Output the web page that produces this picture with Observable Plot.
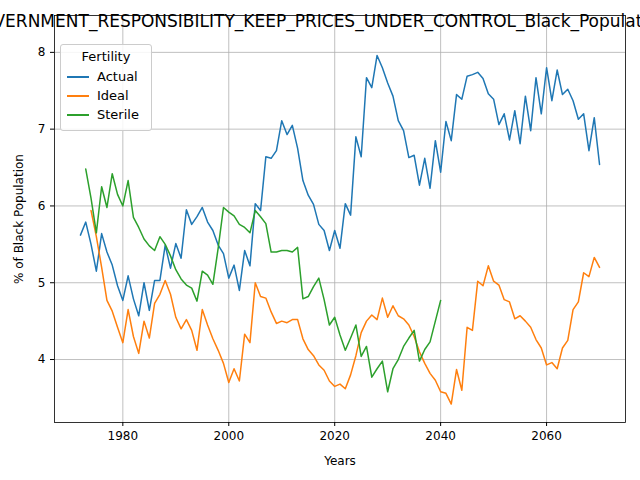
<!DOCTYPE html>
<html><head><meta charset="utf-8">
<script src="https://cdn.jsdelivr.net/npm/d3@7"></script>
<script src="https://cdn.jsdelivr.net/npm/@observablehq/plot@0.6"></script>
<style>
body{margin:0;background:#fff;font-family:"DejaVu Sans",sans-serif;}
#wrap{position:relative;width:640px;height:480px;overflow:hidden;}
#title{position:absolute;top:11px;left:340px;transform:translateX(-50%);white-space:nowrap;font-size:17px;}
#legend{position:absolute;left:60px;top:44px;width:90px;padding:4px 0 6px 0;border:1px solid #ccc;border-radius:3px;background:rgba(255,255,255,0.85);font-size:13px;}
#legend .h{text-align:center;margin-bottom:3px;}
#legend .r{display:flex;align-items:center;height:19px;padding-left:6px;}
#legend .r span.l{display:inline-block;width:22px;height:2px;margin-right:8px;}
</style></head><body>
<div id="wrap"><div id="chart"></div>
<div id="title">GOVERNMENT_RESPONSIBILITY_KEEP_PRICES_UNDER_CONTROL_Black_Population_Year</div>
<div id="legend"><div class="h">Fertility</div></div>
</div>
<script>
const actualStart = 1972;
const actual = [5.62,5.79,5.5,5.15,5.64,5.4,5.23,4.96,4.77,5.09,4.79,4.57,5.0,4.64,5.03,5.03,5.49,5.19,5.51,5.32,5.95,5.76,5.86,5.98,5.79,5.68,5.49,5.38,5.06,5.23,4.9,5.42,5.22,6.03,5.94,6.64,6.62,6.72,7.11,6.93,7.05,6.75,6.33,6.14,6.02,5.76,5.68,5.42,5.68,5.45,6.03,5.88,6.9,6.64,7.67,7.54,7.96,7.8,7.6,7.43,7.11,6.98,6.63,6.66,6.27,6.62,6.23,6.85,6.44,7.1,6.85,7.45,7.39,7.69,7.71,7.74,7.66,7.46,7.39,7.06,7.2,6.86,7.24,6.81,7.43,6.98,7.67,7.2,7.8,7.37,7.77,7.45,7.52,7.37,7.13,7.2,6.72,7.15,6.54];
const idealStart = 1974;
const ideal = [5.94,5.6,5.2,4.77,4.63,4.42,4.22,4.65,4.3,4.08,4.5,4.28,4.73,4.85,5.03,4.85,4.55,4.4,4.52,4.38,4.12,4.65,4.45,4.27,4.12,3.95,3.7,3.88,3.72,4.33,4.22,5.0,4.82,4.8,4.62,4.47,4.5,4.48,4.52,4.52,4.27,4.13,4.05,3.93,3.86,3.72,3.65,3.68,3.62,3.8,4.05,4.35,4.5,4.58,4.52,4.8,4.55,4.7,4.57,4.53,4.45,4.3,4.1,3.95,3.82,3.73,3.58,3.56,3.42,3.87,3.6,4.42,4.38,5.02,4.96,5.22,5.02,4.97,4.78,4.75,4.53,4.57,4.5,4.42,4.26,4.15,3.93,3.96,3.88,4.15,4.25,4.65,4.75,5.13,5.08,5.33,5.2];
const sterileStart = 1973;
const sterile = [6.48,6.1,5.65,6.25,5.98,6.42,6.15,6.0,6.33,5.85,5.72,5.57,5.48,5.42,5.6,5.5,5.35,5.17,5.05,4.97,4.93,4.76,5.15,5.1,4.98,5.45,5.98,5.92,5.87,5.76,5.72,5.65,5.94,5.86,5.77,5.4,5.4,5.42,5.42,5.4,5.46,4.79,4.82,4.95,5.06,4.78,4.45,4.55,4.32,4.12,4.28,4.45,4.04,4.17,3.77,3.88,3.98,3.58,3.88,4.0,4.17,4.28,4.38,3.98,4.13,4.23,4.5,4.77];
const seriesNames = ["Actual","Ideal","Sterile"];
const seriesColors = ["#1f77b4","#ff7f0e","#2ca02c"];
const xTicks = [1980,2000,2020,2040,2060];
const yTicks = [4,5,6,7,8];

const rows = [];
[[actual,actualStart,"Actual"],[ideal,idealStart,"Ideal"],[sterile,sterileStart,"Sterile"]].forEach(([vals,start,name]) =>
  vals.forEach((v,i) => rows.push({year:start+i, value:v, series:name})));

const plot = Plot.plot({
  width:640, height:480,
  marginLeft:54, marginRight:15, marginTop:15, marginBottom:58,
  style:{fontFamily:"DejaVu Sans", fontSize:"12px", color:"#000"},
  x:{domain:[1967.1,2074.9]},
  y:{domain:[3.18,8.48]},
  color:{domain:seriesNames, range:seriesColors},
  marks:[
    Plot.gridX(xTicks,{stroke:"#b0b0b0", strokeOpacity:1, strokeWidth:0.8}),
    Plot.gridY(yTicks,{stroke:"#b0b0b0", strokeOpacity:1, strokeWidth:0.8}),
    Plot.line(rows,{x:"year", y:"value", z:"series", stroke:"series", strokeWidth:1.5}),
    Plot.frame({stroke:"#000", strokeWidth:0.8}),
    Plot.axisX({ticks:xTicks, tickFormat:d=>String(d), label:"Years", labelAnchor:"center", labelArrow:"none", labelOffset:42, tickSize:4, fontSize:12}),
    Plot.axisY({ticks:yTicks, tickFormat:d=>String(d), label:"% of Black Population", labelAnchor:"center", labelArrow:"none", labelOffset:40, tickSize:4, fontSize:12})
  ]
});
document.getElementById("chart").appendChild(plot);

const leg = document.getElementById("legend");
seriesNames.forEach((n,i) => {
  const r = document.createElement("div"); r.className = "r";
  r.innerHTML = `<span class="l" style="background:${seriesColors[i]}"></span>${n}`;
  leg.appendChild(r);
});
</script></body></html>
